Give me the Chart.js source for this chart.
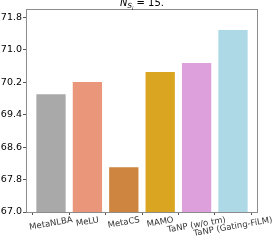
<!DOCTYPE html>
<html>
<head>
<meta charset="utf-8">
<script src="https://cdn.jsdelivr.net/npm/chart.js@4.4.0/dist/chart.umd.min.js"></script>
<style>
  html, body { margin: 0; padding: 0; background: #fff; }
  #wrap { width: 273px; height: 240px; }
</style>
</head>
<body>
<div id="wrap"><canvas id="c" width="273" height="240"></canvas></div>
<script>
// valores
const metodos = ['MetaNLBA', 'MeLU', 'MetaCS', 'MAMO', 'TaNP (w/o tm)', 'TaNP (Gating-FiLM)'];
const valores = [69.9, 70.2, 68.1, 70.45, 70.67, 71.48];
const colores = ['#a9a9a9', '#e9967a', '#cd853f', '#daa520', '#dda0dd', '#add8e6'];
const ticksY = [67.0, 67.8, 68.6, 69.4, 70.2, 71.0, 71.8];

const FUENTE = '"DejaVu Sans", sans-serif';

// marco gris alrededor del area + titulo + etiquetas rotadas
const extras = {
    id: 'extras',
    afterDraw(chart) {
        const ctx = chart.ctx;
        const a = chart.chartArea;
        const l = Math.round(a.left), r = Math.round(a.right);
        const t = Math.round(a.top), b = Math.round(a.bottom);
        ctx.save();
        // marco con rectangulos de 1px
        ctx.fillStyle = '#8c8c8c';
        ctx.fillRect(l, t, r - l, 1);
        ctx.fillRect(l, b, r - l, 1);
        ctx.fillRect(l, t, 1, b - t + 1);
        ctx.fillRect(r - 1, t, 1, b - t + 1);

        // titulo N_{S_i} = 15.
        ctx.fillStyle = '#000';
        ctx.textBaseline = 'alphabetic';
        const base = 6;
        const partes = [
            { t: 'N', f: 'italic 10px ' + FUENTE, dy: 0 },
            { t: 'S', f: 'italic 7px ' + FUENTE, dy: 2 },
            { t: 'i', f: 'italic 5px ' + FUENTE, dy: 3.5 },
            { t: ' = 15.', f: '10px ' + FUENTE, dy: 0 }
        ];
        let total = 0;
        partes.forEach(p => { ctx.font = p.f; total += ctx.measureText(p.t).width; });
        let x = (a.left + a.right) / 2 - total / 2;
        partes.forEach(p => {
            ctx.font = p.f;
            ctx.fillText(p.t, x, base + p.dy);
            x += ctx.measureText(p.t).width;
        });

        // etiquetas del eje x, rotadas 10 grados
        const sx = chart.scales.x;
        const ang = 10 * Math.PI / 180;
        ctx.font = '8.5px ' + FUENTE;
        ctx.fillStyle = '#333';
        ctx.textAlign = 'center';
        ctx.textBaseline = 'middle';
        metodos.forEach((m, i) => {
            const px = sx.getPixelForValue(i);
            const w = ctx.measureText(m).width;
            const h = 9;
            const bh = w * Math.sin(ang) + h * Math.cos(ang);
            const cy = a.bottom + 3.5 + bh / 2;
            ctx.save();
            ctx.translate(px, cy);
            ctx.rotate(-ang);
            ctx.fillText(m, 0, 0);
            ctx.restore();
        });
        ctx.restore();
    }
};

new Chart(document.getElementById('c'), {
    type: 'bar',
    data: {
        datasets: [{
            data: valores.map((v, i) => ({ x: i, y: v })),
            backgroundColor: colores,
            borderWidth: 0,
            barPercentage: 0.805,
            categoryPercentage: 1.0
        }]
    },
    options: {
        responsive: false,
        animation: false,
        devicePixelRatio: 1,
        layout: { padding: { top: 9, right: 15, left: 0, bottom: 0 } },
        plugins: {
            legend: { display: false },
            tooltip: { enabled: false },
            title: { display: false }
        },
        scales: {
            x: {
                type: 'linear',
                offset: false,
                min: -0.687,
                max: 5.687,
                afterBuildTicks: s => { s.ticks = metodos.map((m, i) => ({ value: i })); },
                grid: { display: true, drawOnChartArea: false, drawTicks: true, tickLength: 3, color: '#555' },
                border: { display: false },
                ticks: { display: true, color: 'rgba(0,0,0,0)', font: { size: 1 }, padding: 0 },
                afterFit: s => { s.height = 28; }
            },
            y: {
                min: 67.0,
                max: 72.0,
                afterBuildTicks: s => { s.ticks = ticksY.map(v => ({ value: v })); },
                grid: { display: true, drawOnChartArea: false, tickLength: 3, color: '#555' },
                border: { display: false },
                ticks: {
                    color: '#000',
                    font: { family: FUENTE, size: 9.5 },
                    padding: 1,
                    callback: v => v.toFixed(1)
                },
                afterFit: s => { s.width = 26; }
            }
        }
    },
    plugins: [extras]
});
</script>
</body>
</html>
